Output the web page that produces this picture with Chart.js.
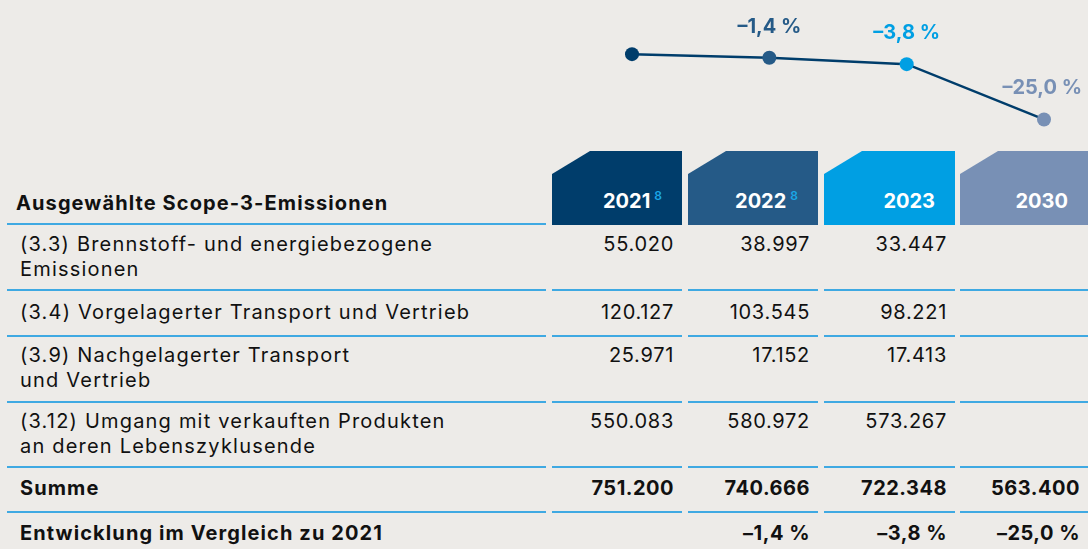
<!DOCTYPE html>
<html>
<head>
<meta charset="utf-8">
<script src="https://cdn.jsdelivr.net/npm/chart.js@4.4.1/dist/chart.umd.min.js"></script>
<style>
  html, body { margin: 0; padding: 0; }
  body {
    width: 1088px; height: 549px; overflow: hidden; position: relative;
    background: #edebe8; font-family: Inter, "Noto Sans", sans-serif; color: #111;
  }
  #trend { position: absolute; left: 612px; top: 0; width: 476px; height: 150px; z-index: 2; }
  .cell { position: absolute; box-sizing: border-box; font-size: 20px; line-height: 25px; white-space: nowrap; letter-spacing: 1.2px; }
  .line { position: absolute; height: 2px; background: #3fa9e2; }
  .num { text-align: right; padding-right: 8px; letter-spacing: 0.7px; }
  .bold { font-weight: 700; letter-spacing: 1.1px; }
  .num.bold { letter-spacing: 0.5px; }
  .yearbox {
    position: absolute; box-sizing: border-box; color: #fff; font-weight: 700; font-size: 20px;
    text-align: right; padding-right: 20px; padding-top: 38px;
    clip-path: polygon(0 23px, 38px 0, 100% 0, 100% 100%, 0 100%);
  }
  .yearbox sup { color: #1aa6e6; font-size: 12px; font-weight: 600; vertical-align: 8px; line-height: 0; margin-left: 4px; }
</style>
</head>
<body>
<div id="table"></div>
<canvas id="trend" width="476" height="150"></canvas>
<script>
// Werte (t CO2e)
const years = ['2021', '2022', '2023', '2030'];
const yearNotes = ['8', '8', '', ''];
const yearColors = ['#003d6b', '#255a87', '#009fe3', '#7890b5'];
const headerLabel = 'Ausgewählte Scope-3-Emissionen';
const rowLabels = [
  ['(3.3) Brennstoff- und energiebezogene', 'Emissionen'],
  ['(3.4) Vorgelagerter Transport und Vertrieb'],
  ['(3.9) Nachgelagerter Transport', 'und Vertrieb'],
  ['(3.12) Umgang mit verkauften Produkten', 'an deren Lebenszyklusende']
];
const values2021 = [55020, 120127, 25971, 550083];
const values2022 = [38997, 103545, 17152, 580972];
const values2023 = [33447, 98221, 17413, 573267];
const values2030 = [null, null, null, null];
const sumLabel = 'Summe';
const sums = [751200, 740666, 722348, 563400];
const changeLabel = 'Entwicklung im Vergleich zu 2021';
const changes = [null, -1.4, -3.8, -25.0];

// Layout
const colLeft = [7, 552, 688, 824, 960];
const colWidth = [539, 130, 130, 131, 128];
const rowBounds = [225, 290, 336, 402, 467, 512, 557];
const headerTop = 151;

function fmtNum(v) {
  if (v === null) return '';
  return String(v).replace(/\B(?=(\d{3})+(?!\d))/g, '.');
}
function fmtPct(v) {
  if (v === null) return '';
  return (v < 0 ? '–' : '') + Math.abs(v).toFixed(1).replace('.', ',') + ' %';
}

const table = document.getElementById('table');
function addCell(col, top, height, html, cls, pad) {
  const d = document.createElement('div');
  d.className = 'cell ' + (cls || '');
  d.style.left = colLeft[col] + 'px';
  d.style.width = colWidth[col] + 'px';
  d.style.top = top + 'px';
  d.style.height = height + 'px';
  d.style.paddingTop = pad + 'px';
  if (col === 0) d.style.paddingLeft = '13px';
  d.innerHTML = html;
  table.appendChild(d);
}
function addLine(col, y) {
  const l = document.createElement('div');
  l.className = 'line';
  l.style.left = colLeft[col] + 'px';
  l.style.width = colWidth[col] + 'px';
  l.style.top = (y - 1) + 'px';
  table.appendChild(l);
}

// Kopfzeile
const hl = document.createElement('div');
hl.className = 'cell bold';
hl.style.left = '16px'; hl.style.top = '191px';
hl.textContent = headerLabel;
table.appendChild(hl);
addLine(0, rowBounds[0] - 1);
years.forEach((y, i) => {
  const b = document.createElement('div');
  b.className = 'yearbox';
  b.style.left = colLeft[i + 1] + 'px';
  b.style.width = colWidth[i + 1] + 'px';
  b.style.top = headerTop + 'px';
  b.style.height = (rowBounds[0] - headerTop) + 'px';
  b.style.background = yearColors[i];
  b.innerHTML = y + (yearNotes[i] ? '<sup>' + yearNotes[i] + '</sup>' : '');
  table.appendChild(b);
});

const series = [values2021, values2022, values2023, values2030];
const rows = rowLabels.map((lab, r) => ({
  label: lab.join('<br>'), lines: lab.length, cells: series.map(s => fmtNum(s[r])), bold: false
}));
rows.push({ label: sumLabel, lines: 1, cells: sums.map(fmtNum), bold: true });
rows.push({ label: changeLabel, lines: 1, cells: changes.map(fmtPct), bold: true });

rows.forEach((row, r) => {
  const top = rowBounds[r], h = rowBounds[r + 1] - top;
  const pad = (h - row.lines * 25) / 2 - 1;
  const cls = row.bold ? 'bold' : '';
  addCell(0, top, h, row.label, cls, pad);
  row.cells.forEach((c, i) => addCell(i + 1, top, h, c, 'num ' + cls, pad));
  if (r < rows.length - 1) for (let c = 0; c < 5; c++) addLine(c, rowBounds[r + 1]);
});

// Trendlinie
const pctPlugin = {
  id: 'pctLabels',
  afterDatasetsDraw(chart) {
    const ctx = chart.ctx;
    const meta = chart.getDatasetMeta(0);
    ctx.save();
    ctx.font = '700 20px Inter, "Noto Sans", sans-serif';
    ctx.textBaseline = 'middle';
    meta.data.forEach((pt, i) => {
      if (changes[i] === null) return;
      const txt = fmtPct(changes[i]);
      const w = ctx.measureText(txt).width;
      let x = pt.x - w / 2;
      if (x + w > chart.width - 6) x = chart.width - 6 - w;
      ctx.fillStyle = yearColors[i];
      ctx.textAlign = 'left';
      ctx.fillText(txt, x, pt.y - 31);
    });
    ctx.restore();
  }
};

new Chart(document.getElementById('trend'), {
  type: 'line',
  data: {
    labels: years,
    datasets: [{
      data: sums,
      borderColor: '#003d6b',
      borderWidth: 2.5,
      pointRadius: 7,
      pointHoverRadius: 7,
      pointBorderWidth: 0,
      pointBackgroundColor: yearColors,
      tension: 0,
      clip: false
    }]
  },
  options: {
    responsive: false,
    animation: false,
    layout: { padding: { left: 20, right: 44, top: 0, bottom: 0 } },
    plugins: { legend: { display: false }, tooltip: { enabled: false } },
    scales: {
      x: { display: false, offset: false },
      y: { display: false, min: 495600, max: 886800 }
    }
  },
  plugins: [pctPlugin]
});
</script>
</body>
</html>
